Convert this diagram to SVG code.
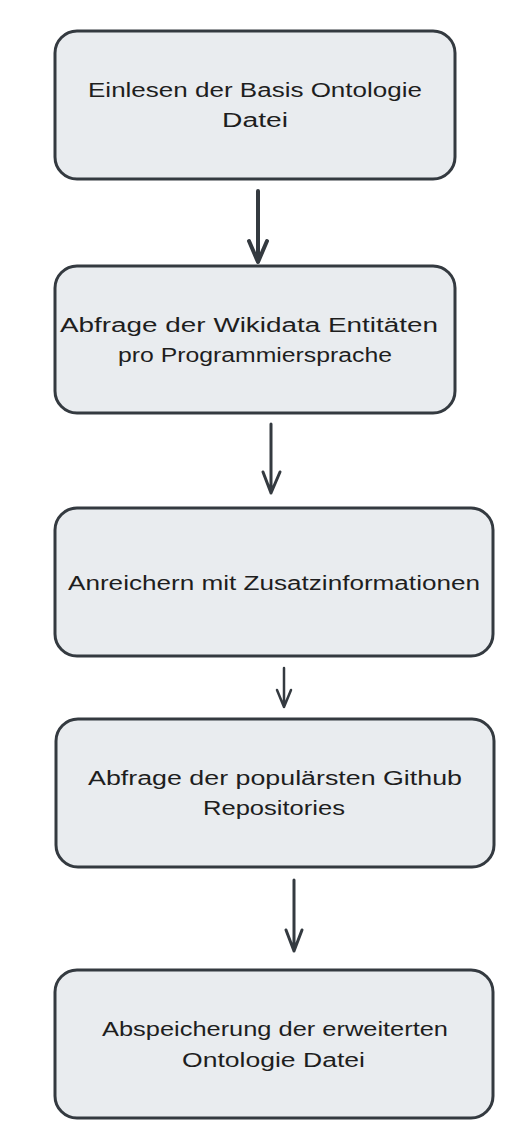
<svg xmlns="http://www.w3.org/2000/svg" width="532" height="1138" viewBox="0 0 532 1138">
<style>
.box{fill:#e9ecef;stroke:#343a40;stroke-width:3;}
.lbl{font-family:"Liberation Sans","DejaVu Sans",sans-serif;font-size:20px;fill:#1e1e1e;text-anchor:start;}
.arr{fill:none;stroke:#343a40;stroke-linecap:round;stroke-linejoin:round;}
</style>
<rect width="532" height="1138" fill="#ffffff"/>
<g id="node1">
<rect class="box" x="55" y="31" width="400" height="148" rx="22"/>
<text class="lbl" x="88" y="97" textLength="334" lengthAdjust="spacingAndGlyphs">Einlesen der Basis Ontologie</text>
<text class="lbl" x="222" y="127" textLength="66" lengthAdjust="spacingAndGlyphs">Datei</text>
</g>
<g id="node2">
<rect class="box" x="55" y="266" width="400" height="147" rx="22"/>
<text class="lbl" x="60" y="332" textLength="378" lengthAdjust="spacingAndGlyphs">Abfrage der Wikidata Entitäten</text>
<text class="lbl" x="118" y="362" textLength="274" lengthAdjust="spacingAndGlyphs">pro Programmiersprache</text>
</g>
<g id="node3">
<rect class="box" x="55" y="508" width="438" height="148" rx="22"/>
<text class="lbl" x="68" y="590" textLength="412" lengthAdjust="spacingAndGlyphs">Anreichern mit Zusatzinformationen</text>
</g>
<g id="node4">
<rect class="box" x="56" y="719" width="438" height="148" rx="22"/>
<text class="lbl" x="88" y="785" textLength="374" lengthAdjust="spacingAndGlyphs">Abfrage der populärsten Github</text>
<text class="lbl" x="203" y="815" textLength="142" lengthAdjust="spacingAndGlyphs">Repositories</text>
</g>
<g id="node5">
<rect class="box" x="55" y="970" width="438" height="148" rx="22"/>
<text class="lbl" x="102" y="1036" textLength="346" lengthAdjust="spacingAndGlyphs">Abspeicherung der erweiterten</text>
<text class="lbl" x="182" y="1067" textLength="183" lengthAdjust="spacingAndGlyphs">Ontologie Datei</text>
</g>
<g id="connectors">
<path class="arr" stroke-width="4" d="M258 191 L258 262 M249 241 L258 262 L267 241"/>
<path class="arr" stroke-width="3" d="M271 424 L271 493 M263 472 L271 493 L280 472"/>
<path class="arr" stroke-width="2.5" d="M284 668 L284 707 M277 690 L284 707 L291 690"/>
<path class="arr" stroke-width="3" d="M294 880 L294 951 M286 930 L294 951 L302 930"/>
</g>
</svg>
